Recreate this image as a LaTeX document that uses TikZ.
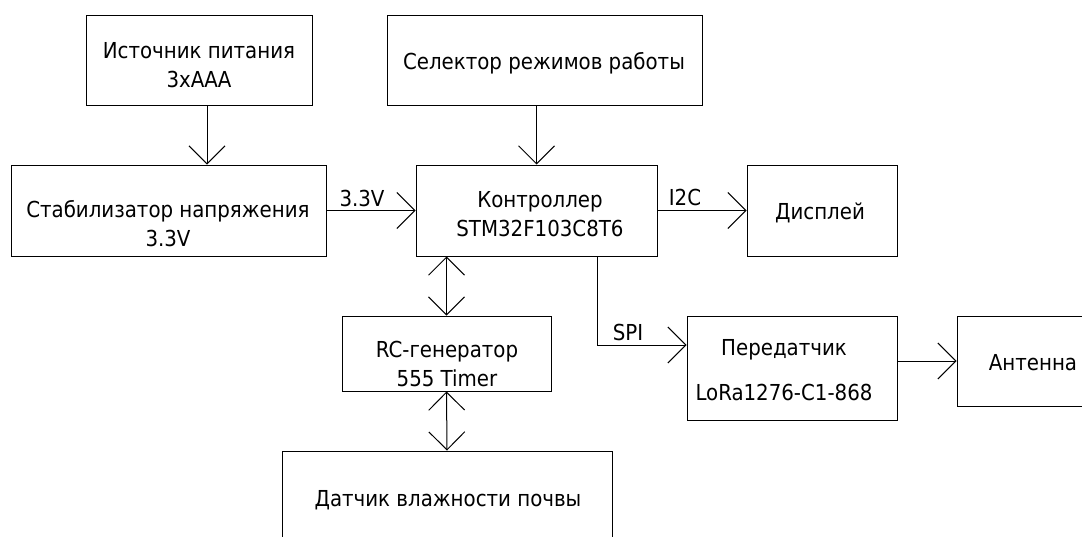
\documentclass[tikz,border=0pt]{standalone}
\usepackage{fontspec}
\setmainfont{DejaVu Sans Condensed}
\usetikzlibrary{arrows.meta}

\tikzset{
  blk/.style={draw, line width=1pt, inner sep=0pt},
  txt/.style={font=\fontsize{22}{29}\selectfont, align=center, inner sep=0pt},
  barb/.tip={Straight Barb[length=18pt,width=36pt,line width=1pt]},
  sig/.style={line width=1pt, -barb},
  bus/.style={line width=1pt, barb-barb},
}

\begin{document}
\begin{tikzpicture}[x=1pt, y=-1pt]
    \useasboundingbox (0,0) rectangle (1082,536);
    \fill[white] (0,0) rectangle (1082,536);
    \clip (0,0) rectangle (1082,536);

    % Blocks
    \node[blk, minimum width=226pt, minimum height=90pt] (src) at (199,60) {};
    \node[blk, minimum width=315pt, minimum height=90pt] (sel) at (544.5,60) {};
    \node[blk, minimum width=315pt, minimum height=91pt] (stab) at (168.5,210.5) {};
    \node[blk, minimum width=241pt, minimum height=91pt] (ctrl) at (536.5,210.5) {};
    \node[blk, minimum width=150pt, minimum height=91pt] (disp) at (822,210.5) {};
    \node[blk, minimum width=209pt, minimum height=75pt] (rc) at (446.5,353.5) {};
    \node[blk, minimum width=210pt, minimum height=104pt] (trans) at (792,368) {};
    \node[blk, minimum width=153pt, minimum height=90pt] (ant) at (1033.5,361) {};
    \node[blk, minimum width=330pt, minimum height=98pt] (sens) at (447,500) {};

    % Block texts
    \node[txt] (src-t) at (199,65) {Источник питания\\3хААА};
    \node[txt] (sel-t) at (544,63) {Селектор режимов работы};
    \node[txt] (stab-t) at (168,224) {Стабилизатор напряжения\\3.3V};
    \node[txt] (ctrl-t) at (540,214.5) {Контроллер\\STM32F103C8T6};
    \node[txt] (disp-t) at (820,213) {Дисплей};
    \node[txt] (rc-t) at (447,364) {RC-генератор\\555 Timer};
    \node[txt] (trans-t) at (784,370.5) {Передатчик\\[16pt]LoRa1276-C1-868};
    \node[txt] (ant-t) at (1033,363) {Антенна};
    \node[txt] (sens-t) at (448,500) {Датчик влажности почвы};

    % Connections
    \coordinate (src-out) at ([xshift=8pt]src.south);
    \draw[sig] (src-out) -- (src-out |- stab.north);
    \draw[sig] (sel.south -| ctrl.north) -- (ctrl.north);
    \draw[sig] (stab.east) -- (ctrl.west);
    \draw[sig] (ctrl.east) -- (disp.west);
    \coordinate (spi-bend) at (597,345);
    \draw[sig] (ctrl.south -| spi-bend) -- (spi-bend) -- (spi-bend -| trans.west);
    \draw[sig] (trans.east |- ant.west) -- (ant.west);
    \draw[bus] (rc.north |- ctrl.south) -- (rc.north);
    \draw[bus] (rc.south) -- (sens.north);

    % Line labels
    \node[txt] (v-lbl) at (362,198) {3.3V};
    \node[txt] (i2c-lbl) at (685,197) {I2C};
    \node[txt] (spi-lbl) at (628,332) {SPI};
\end{tikzpicture}
\end{document}
